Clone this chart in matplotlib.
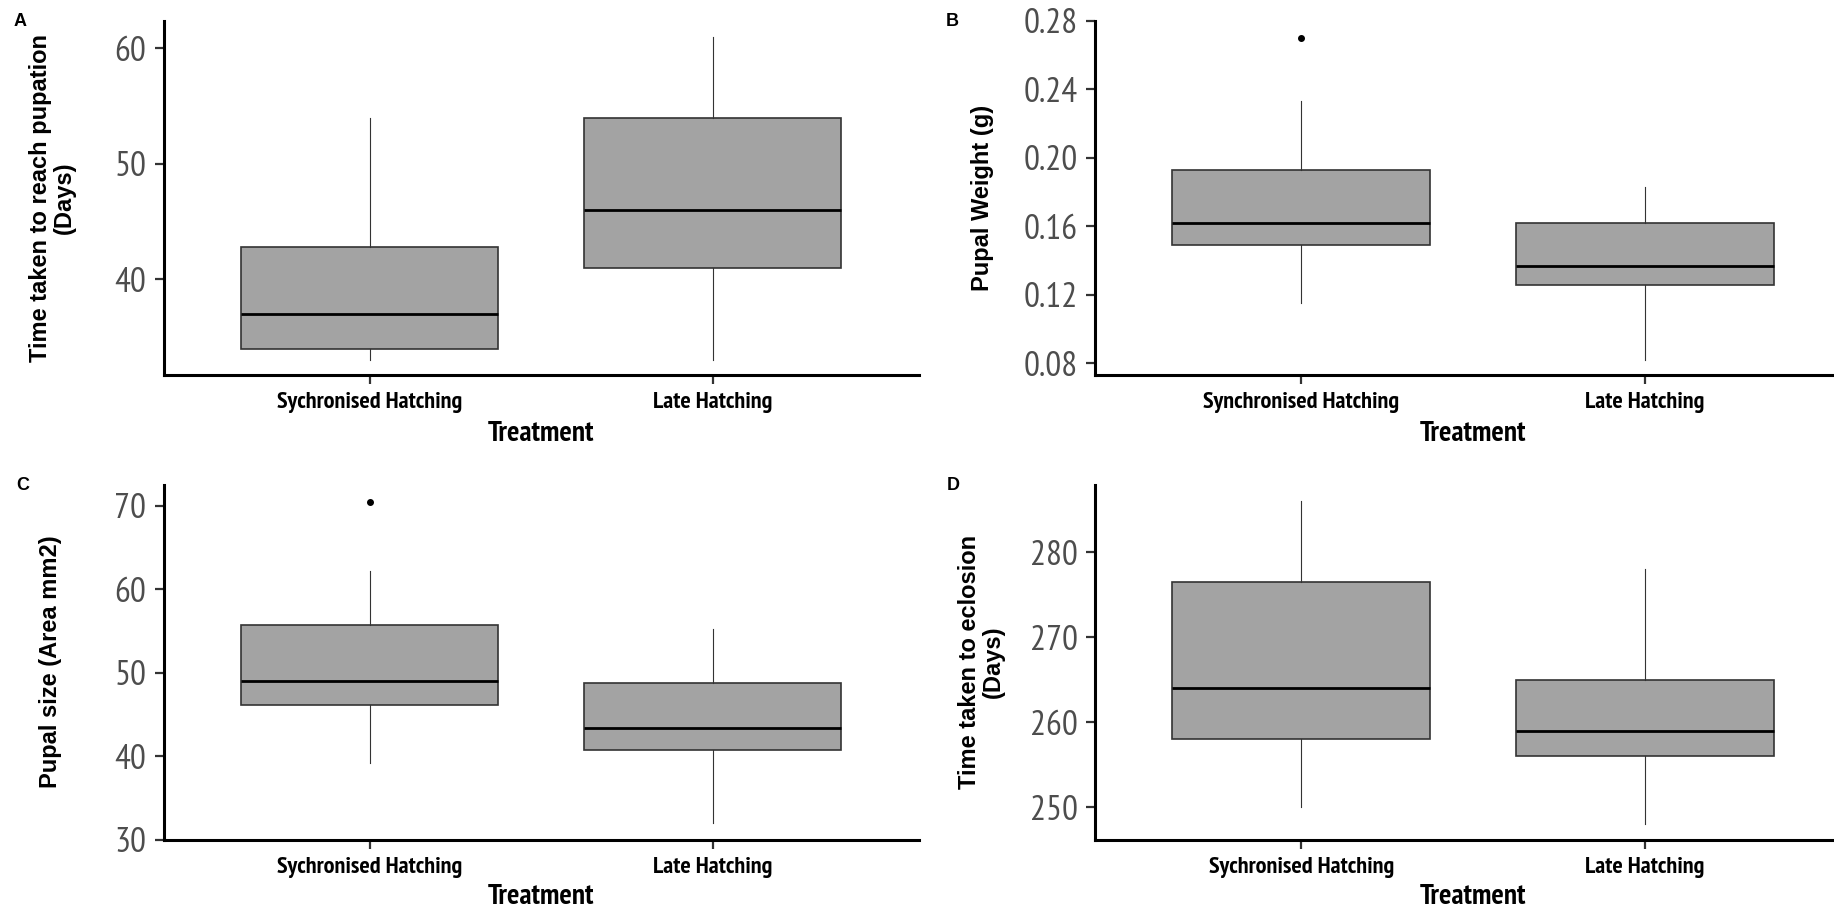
import matplotlib
matplotlib.use('Agg')
import matplotlib.pyplot as plt
from matplotlib import font_manager
from matplotlib.font_manager import FontProperties

W, H = 1834, 909

# category names
groups_sy = ['Sychronised Hatching', 'Late Hatching']
groups_syn = ['Synchronised Hatching', 'Late Hatching']

# A - time taken to reach pupation (days)
pup_lo = [33.0, 33.0]
pup_q1 = [34.0, 41.0]
pup_med = [37.0, 46.0]
pup_q3 = [42.8, 54.0]
pup_hi = [54.0, 61.0]
pup_out = [[], []]

# B - pupal weight (g)
wt_lo = [0.115, 0.082]
wt_q1 = [0.149, 0.126]
wt_med = [0.162, 0.137]
wt_q3 = [0.193, 0.162]
wt_hi = [0.233, 0.183]
wt_out = [[0.270], []]

# C - pupal size (area mm2)
size_lo = [39.2, 32.0]
size_q1 = [46.1, 40.8]
size_med = [49.0, 43.4]
size_q3 = [55.7, 48.8]
size_hi = [62.2, 55.2]
size_out = [[70.5], []]

# D - time taken to eclosion (days)
ecl_lo = [250.0, 248.0]
ecl_q1 = [258.0, 256.0]
ecl_med = [264.0, 259.0]
ecl_q3 = [276.5, 265.0]
ecl_hi = [286.0, 278.0]
ecl_out = [[], []]

# narrow font (Arial Narrow look-alike) with real regular + bold files
ttf = font_manager.fontManager.ttflist
f_narrow = f_narrow_b = None
for fam in ['Liberation Sans Narrow', 'Arial Narrow', 'PT Sans Narrow', 'IBM Plex Sans Condensed']:
    reg = [f.fname for f in ttf if f.name == fam and f.weight in (400, 'normal', 'regular') and f.style == 'normal' and '[' not in f.fname]
    bld = [f.fname for f in ttf if f.name == fam and f.weight in (700, 'bold') and f.style == 'normal' and '[' not in f.fname]
    if reg and bld:
        f_narrow, f_narrow_b = sorted(reg)[0], sorted(bld)[0]
        break
if f_narrow is None:
    f_narrow = font_manager.findfont(FontProperties(family='DejaVu Sans'))
    f_narrow_b = font_manager.findfont(FontProperties(family='DejaVu Sans', weight='bold'))
f_wide_b = font_manager.findfont(FontProperties(family=['Liberation Sans', 'Arimo', 'DejaVu Sans'], weight='bold'))


def fp(path, size):
    return FontProperties(fname=path, size=size)


fig = plt.figure(figsize=(W / 100, H / 100), dpi=100)


def make_axes(left, right, top, bottom):
    return fig.add_axes([left / W, 1 - bottom / H, (right - left) / W, (bottom - top) / H])


def panel(ax, labels, lo, q1, med, q3, hi, out, ylim, yticks, fmt):
    stats = []
    for i in range(len(labels)):
        stats.append(dict(whislo=lo[i], q1=q1[i], med=med[i], q3=q3[i], whishi=hi[i], fliers=out[i]))
    ax.bxp(stats, positions=[1, 2], widths=0.75, patch_artist=True, showcaps=False,
           boxprops=dict(facecolor='#a3a3a3', edgecolor='#333333', linewidth=1.2),
           medianprops=dict(color='black', linewidth=2.0),
           whiskerprops=dict(color='#333333', linewidth=0.8),
           flierprops=dict(marker='o', markerfacecolor='black', markeredgecolor='black', markersize=4))
    ax.set_xlim(0.4, 2.6)
    ax.set_ylim(*ylim)
    ax.set_yticks(yticks)
    ax.set_yticklabels([fmt.format(v) for v in yticks], fontproperties=fp(f_narrow, 25.5), color='#4d4d4d')
    ax.set_xticks([1, 2])
    ax.set_xticklabels(labels, fontproperties=fp(f_narrow_b, 17.5), color='black')
    for s in ['top', 'right']:
        ax.spines[s].set_visible(False)
    for s in ['left', 'bottom']:
        ax.spines[s].set_linewidth(2.2)
        ax.spines[s].set_color('black')
    ax.tick_params(axis='both', length=6.5, width=1.6, color='#333333')
    ax.tick_params(axis='y', pad=6)
    ax.tick_params(axis='x', pad=6)
    ax.set_facecolor('white')


axA = make_axes(163.7, 918.7, 20.7, 375)
panel(axA, groups_sy, pup_lo, pup_q1, pup_med, pup_q3, pup_hi, pup_out, (31.71, 62.39), [40, 50, 60], '{:.0f}')
axB = make_axes(1095, 1851, 20.7, 375)
panel(axB, groups_syn, wt_lo, wt_q1, wt_med, wt_q3, wt_hi, wt_out, (0.0732, 0.2799), [0.08, 0.12, 0.16, 0.20, 0.24, 0.28], '{:.2f}')
axC = make_axes(163.7, 918.7, 485, 840)
panel(axC, groups_sy, size_lo, size_q1, size_med, size_q3, size_hi, size_out, (30.0, 72.48), [30, 40, 50, 60, 70], '{:.0f}')
axD = make_axes(1095, 1851, 485, 840)
panel(axD, groups_sy, ecl_lo, ecl_q1, ecl_med, ecl_q3, ecl_hi, ecl_out, (246.15, 287.9), [250, 260, 270, 280], '{:.0f}')


def ftext(x, y, s, **kw):
    fig.text(x / W, 1 - y / H, s, **kw)


# panel letters
for x, y, s in [(20, 22, 'A'), (952, 22, 'B'), (23, 486, 'C'), (953, 486, 'D')]:
    ftext(x, y, s, fontproperties=fp(f_wide_b, 13), ha='center', va='center')

# y axis titles
ylab = dict(rotation=90, ha='center', va='center', multialignment='center', linespacing=1.05)
ftext(52.5, 198, 'Time taken to reach pupation\n(Days)', fontproperties=fp(f_wide_b, 17), **ylab)
ftext(982.5, 198, 'Pupal Weight (g)', fontproperties=fp(f_wide_b, 17), **ylab)
ftext(51, 662, 'Pupal size (Area mm2)', fontproperties=fp(f_wide_b, 17), **ylab)
ftext(981, 662, 'Time taken to eclosion\n(Days)', fontproperties=fp(f_wide_b, 17), **ylab)

# x axis titles
for x, y in [(541, 434), (1473, 434), (541, 897), (1473, 897)]:
    ftext(x, y, 'Treatment', fontproperties=fp(f_narrow_b, 21), ha='center', va='center')

fig.savefig('out.png', dpi=100, facecolor='white')
